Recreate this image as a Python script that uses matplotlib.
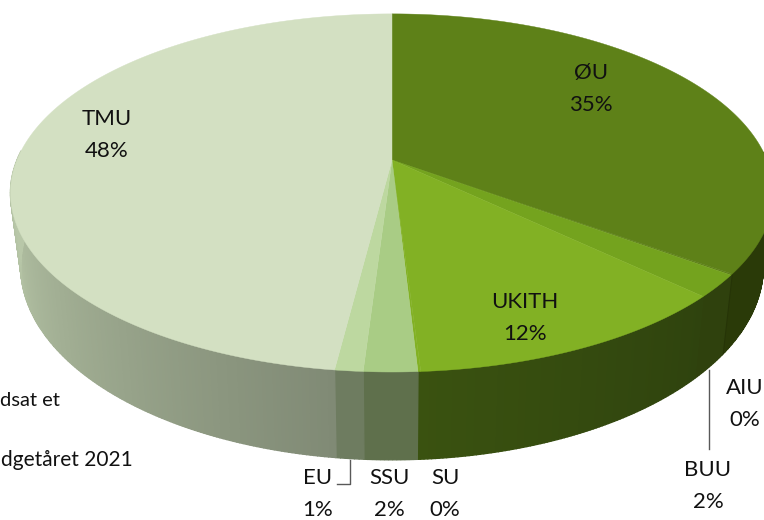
import numpy as np
import matplotlib
matplotlib.use("Agg")
import matplotlib.pyplot as plt
from matplotlib.colors import to_rgb

# Slices, clockwise from 12 o'clock
names = ["ØU", "AIU", "BUU", "UKITH", "SU", "SSU", "EU", "TMU"]
values = [35, 0.1, 2, 11.9, 0.1, 1.9, 1, 48]
labels = ["35%", "0%", "2%", "12%", "0%", "2%", "1%", "48%"]

top_colors = ["#5e8118", "#5e8118", "#74a31e", "#82b124", "#82b124", "#a9cc85", "#bdd8a0", "#d3e0c2"]
# side colour at the start and end of each slice
side_start = ["#243106", "#263407", "#2f410d", "#2f430e", "#3a5210", "#5f704c", "#6e7c60", "#808a75"]
side_end = ["#2a3a08", "#263407", "#2f410d", "#3a5210", "#3a5210", "#5f704c", "#6e7c60", "#b8c7a8"]

label_pos = [(591, 89), (745, 404), (708, 486), (525, 318), (445, 494), (389, 494), (318, 494), (107, 135)]

# Pie shape in pixels
cx, cy = 392, 160
a, b, k = 375, 173, 0.184


def top_xy(theta):
    # circle seen in perspective
    X, Y = np.sin(theta), -np.cos(theta)
    s = 1 / (1 - k * Y)
    return cx + a * X * s, cy + b * Y * s


def bottom_xy(theta):
    x, y = top_xy(theta)
    return cx + (x - cx) * 0.973, y * 1.08 + 58


fig = plt.figure(figsize=(7.64, 5.2), dpi=100)
ax = fig.add_axes([0, 0, 1, 1])
ax.set_xlim(0, 764)
ax.set_ylim(520, 0)
ax.axis("off")

edges = np.cumsum([0] + values) / sum(values) * 2 * np.pi

# Sides first
for i in range(len(values)):
    ts = np.linspace(edges[i], edges[i + 1], max(int((edges[i + 1] - edges[i]) * 120), 2))
    # the shading runs out before the slice ends on the big left slice
    span = min(edges[i + 1] - edges[i], np.radians(75))
    c0, c1 = np.array(to_rgb(side_start[i])), np.array(to_rgb(side_end[i]))
    for j in range(len(ts) - 1):
        if np.cos(ts[j]) > 0.05:
            continue
        f = min((ts[j] - edges[i]) / span, 1)
        x0, y0 = top_xy(ts[j])
        x1, y1 = top_xy(ts[j + 1])
        x2, y2 = bottom_xy(ts[j + 1])
        x3, y3 = bottom_xy(ts[j])
        ax.fill([x0, x1, x2, x3], [y0, y1, y2, y3], color=c0 + (c1 - c0) * f, lw=1)

# Top face
for i in range(len(values)):
    ts = np.linspace(edges[i], edges[i + 1], 200)
    x, y = top_xy(ts)
    ax.fill(np.r_[cx, x], np.r_[cy, y], color=top_colors[i], lw=0.3)

# Leader lines
ax.plot([709, 709], [370, 449], color="#595959", lw=1)
ax.plot([350, 350, 337], [460, 484, 484], color="#595959", lw=1)

font = "Lato"
for name, lab, (x, y) in zip(names, labels, label_pos):
    ax.text(x, y, name + "\n" + lab, ha="center", va="center", fontsize=16,
            family=font, color="#111111", linespacing=1.7)

# Text at the left edge of the picture
ax.text(60, 401, "dsat et", ha="right", va="center", fontsize=14.5, family=font, color="#111111")
ax.text(133, 460, "dgetåret 2021", ha="right", va="center", fontsize=15, family=font, color="#111111")

fig.savefig("out.png", dpi=100)
